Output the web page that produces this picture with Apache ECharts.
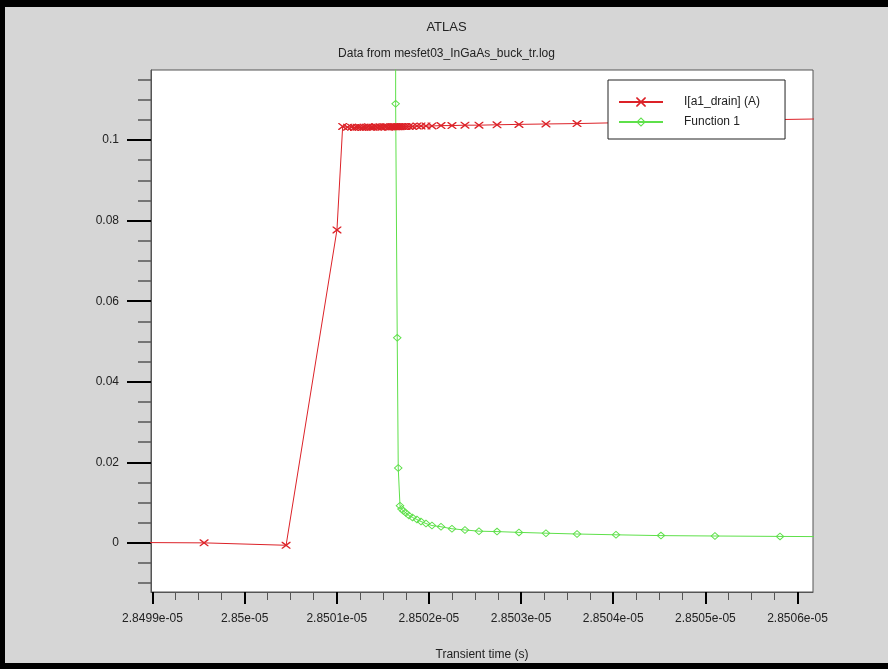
<!DOCTYPE html>
<html lang="en">
<head>
    <meta charset="UTF-8">
    <title>ATLAS</title>
    <style>
        body {margin: 0; background: #000; width: 888px; height: 669px; overflow: hidden}
        #main {position: absolute; left: 5px; top: 7px; width: 883px; height: 656px}
    </style>
</head>
<body>
<div id="main"></div>
</body>
<script src="https://cdn.jsdelivr.net/npm/echarts@6/dist/echarts.min.js"></script>
<script>
    // transient time (s), shared by both curves
    let timeS = [
        2.849870e-5, 2.849956e-5, 2.850045e-5, 2.8501002e-5, 2.8501064e-5,
        2.8501116e-5, 2.850116e-5, 2.8501192e-5, 2.8501219e-5, 2.8501246e-5,
        2.8501273e-5, 2.8501295e-5, 2.8501322e-5, 2.8501344e-5, 2.8501371e-5,
        2.8501393e-5, 2.850142e-5, 2.8501442e-5, 2.8501469e-5, 2.8501491e-5,
        2.8501518e-5, 2.8501539e-5, 2.8501561e-5, 2.8501583e-5, 2.8501599e-5,
        2.8501615e-5, 2.850163e-5, 2.8501639e-5, 2.8501656e-5, 2.8501667e-5,
        2.8501686e-5, 2.8501702e-5, 2.8501724e-5, 2.8501751e-5, 2.8501783e-5,
        2.8501822e-5, 2.850187e-5, 2.8501914e-5, 2.8501968e-5, 2.8502033e-5,
        2.8502131e-5, 2.850225e-5, 2.8502391e-5, 2.8502543e-5, 2.8502739e-5,
        2.8502977e-5, 2.850327e-5, 2.8503607e-5, 2.850403e-5, 2.8504518e-5,
        2.8505104e-5, 2.850581e-5, 2.8506656e-5
    ]
    // I[a1_drain] (A)
    let drainCurrent = [
        0.0001, 0.0000, -0.0006, 0.0777, 0.1034,
        0.1032, 0.1032, 0.1031, 0.1032, 0.1032,
        0.1031, 0.1032, 0.1032, 0.1033, 0.1032,
        0.1032, 0.1033, 0.1032, 0.1033, 0.1032,
        0.1033, 0.1033, 0.1032, 0.1033, 0.1033,
        0.1033, 0.1033, 0.1033, 0.1033, 0.1033,
        0.1033, 0.1034, 0.1034, 0.1034, 0.1034,
        0.1034, 0.1035, 0.1035, 0.1035, 0.1035,
        0.1036, 0.1036, 0.1037, 0.1037, 0.1038,
        0.1039, 0.1040, 0.1041, 0.1043, 0.1045,
        0.1048, 0.1051, 0.1054
    ]
    // Function 1, off the top of the plot before the switch
    let function1 = [
        null, null, null, null, null,
        null, null, null, null, null,
        null, null, null, null, null,
        null, null, null, null, null,
        null, null, null, null, null,
        null, 0.9, 0.1090, 0.0509, 0.0186,
        0.0092, 0.0084, 0.0079, 0.0074, 0.0068,
        0.0063, 0.0058, 0.0053, 0.0048, 0.0043,
        0.0040, 0.0035, 0.0032, 0.0029, 0.0028,
        0.0026, 0.0024, 0.0022, 0.0020, 0.0018,
        0.0017, 0.0016, 0.0015
    ]
    // axis ticks, x in units of 1e-11 s
    let xTicks = [2849900, 2850000, 2850100, 2850200, 2850300, 2850400, 2850500, 2850600]
    let yTicks = [0, 0.02, 0.04, 0.06, 0.08, 0.1]

    let font = 'Liberation Sans, Arial, sans-serif'
    let red = '#dc2228'
    let green = '#5ee04a'
    let crossIcon = 'path://M0,0L1.2,0L10,7L10,8L8.8,8L0,1ZM10,0L10,1L1.2,8L0,8L0,7L8.8,0Z'
    let diamondIcon = 'path://M5,0L10,4L5,8L0,4ZM5,1.3L1.6,4L5,6.7L8.4,4Z'

    /**
     * 把时间和数值拼成 [x, y]，x 用 1e-11 s 为单位
     */
    function toPairs(values) {
        let out = []
        timeS.forEach((t, i) => {
            if (values[i] !== null) out.push([t * 1e11, values[i]])
        })
        return out
    }

    let chart = echarts.init(document.getElementById('main'))
    let option = {
        animation: false,
        backgroundColor: '#d6d6d6',
        textStyle: {fontFamily: font},
        title: [
            {text: 'ATLAS', left: 'center', top: 14, padding: 0,
                textStyle: {fontSize: 13, fontWeight: 'normal', color: '#222', fontFamily: font}},
            {text: 'Data from mesfet03_InGaAs_buck_tr.log', left: 'center', top: 41, padding: 0,
                textStyle: {fontSize: 12, fontWeight: 'normal', color: '#222', fontFamily: font}}
        ],
        legend: {
            orient: 'vertical',
            left: 603,
            top: 73,
            padding: [16, 25, 11, 10],
            itemGap: 8,
            itemWidth: 44,
            itemHeight: 12,
            backgroundColor: '#fff',
            borderColor: '#222',
            borderWidth: 1,
            borderRadius: 0,
            textStyle: {fontSize: 12, color: '#222', lineHeight: 12, padding: [0, 0, 0, 16], fontFamily: font},
            data: ['I[a1_drain] (A)', 'Function 1']
        },
        grid: {
            left: 146,
            top: 63,
            width: 662,
            height: 522,
            outerBoundsMode: 'none',
            containLabel: false,
            show: true,
            backgroundColor: '#fff',
            borderColor: '#555',
            borderWidth: 1
        },
        xAxis: {
            type: 'value',
            min: 2849898.4,
            max: 2850616.8,
            splitNumber: 7,
            name: 'Transient time (s)',
            nameLocation: 'middle',
            nameGap: 57,
            nameTextStyle: {fontSize: 12, color: '#222', fontFamily: font},
            axisLine: {onZero: false, lineStyle: {color: '#555', width: 1}},
            axisTick: {customValues: xTicks, length: 12, lineStyle: {color: '#000', width: 2}},
            minorTick: {show: true, splitNumber: 4, length: 8, lineStyle: {color: '#555', width: 1}},
            axisLabel: {
                customValues: xTicks,
                margin: 21,
                fontSize: 12,
                color: '#222',
                formatter: v => parseFloat((v / 1e6).toFixed(5)) + 'e-05'
            },
            splitLine: {show: false}
        },
        yAxis: {
            type: 'value',
            min: -0.0122,
            max: 0.1174,
            splitNumber: 6,
            axisLine: {show: true, onZero: false, lineStyle: {color: '#555', width: 1}},
            axisTick: {customValues: yTicks, length: 24, lineStyle: {color: '#000', width: 2}},
            minorTick: {show: true, splitNumber: 4, length: 13, lineStyle: {color: '#555', width: 1.5}},
            axisLabel: {
                customValues: yTicks,
                margin: 32,
                fontSize: 12,
                color: '#222',
                formatter: v => String(parseFloat(v.toFixed(3)))
            },
            splitLine: {show: false}
        },
        series: [
            {
                name: 'I[a1_drain] (A)',
                type: 'line',
                data: toPairs(drainCurrent),
                symbol: crossIcon,
                symbolSize: [9, 7],
                showAllSymbol: true,
                clip: true,
                itemStyle: {color: red},
                lineStyle: {color: red, width: 1}
            },
            {
                name: 'Function 1',
                type: 'line',
                data: toPairs(function1),
                symbol: diamondIcon,
                symbolSize: [9, 8],
                showAllSymbol: true,
                clip: true,
                itemStyle: {color: green},
                lineStyle: {color: green, width: 1}
            }
        ]
    }
    chart.setOption(option)
</script>
</html>
